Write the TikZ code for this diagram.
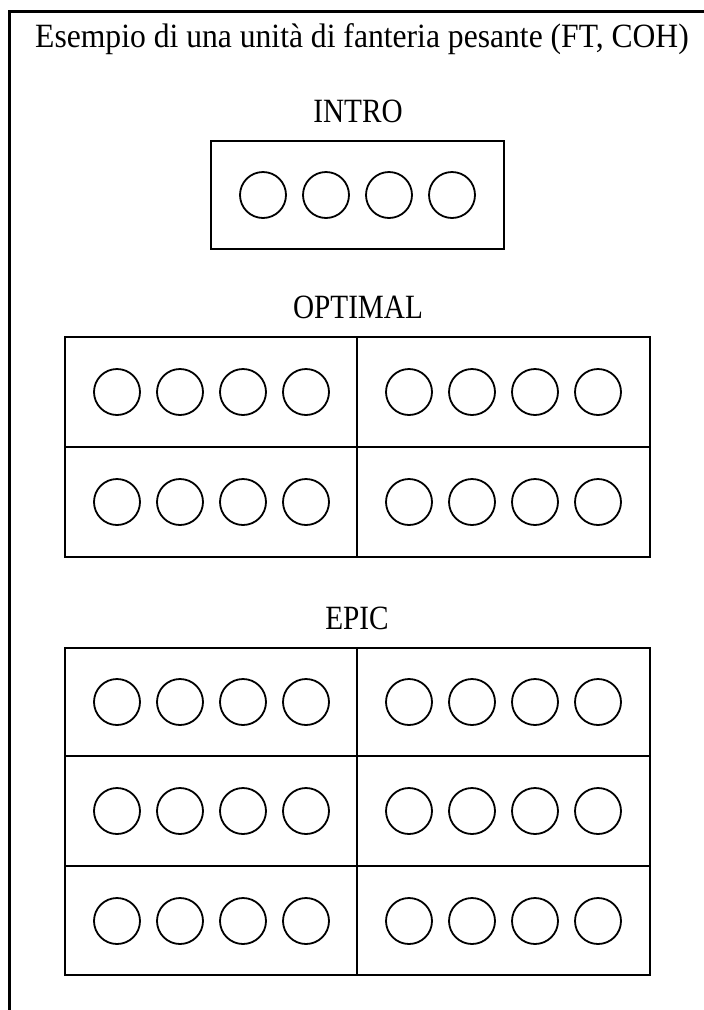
\documentclass[tikz,border=0pt]{standalone}
\usepackage{fontspec}
\setmainfont{Liberation Serif}
\newfontfamily\titlefont[FakeStretch=0.93]{Liberation Serif}
\newfontfamily\labfont[FakeStretch=0.86]{Liberation Serif}
\begin{document}
\begin{tikzpicture}[x=1pt,y=-1pt,
  frameline/.style={line width=2.6pt, line cap=rect},
  boxline/.style={line width=2.6pt},
  dot/.style={circle, draw, line width=1.8pt, minimum size=46pt, inner sep=0pt},
  titletext/.style={anchor=base, inner sep=0pt, font=\titlefont\fontsize{34}{38}\selectfont},
  labtext/.style={anchor=base, inner sep=0pt, font=\labfont\fontsize{34}{38}\selectfont}]
\useasboundingbox (0,0) rectangle (704,1010);
\fill[white] (0,0) rectangle (704,1010);
% frame
\coordinate (fb) at (9.5,1012);
\coordinate (ft) at (9.5,11.5);
\coordinate (fr) at (706,11.5);
\draw[frameline] (fb) -- (ft) -- (fr);
% texts
\node[titletext] (title) at (362,47) {Esempio di una unità di fanteria pesante (FT, COH)};
\node[labtext] (intro) at (358,122) {INTRO};
\node[labtext] (optimal) at (358,318) {OPTIMAL};
\node[labtext] (epic) at (357,629) {EPIC};
% INTRO box
\draw[boxline] (211,141) rectangle (504,249);
\foreach \i/\x in {1/263,2/326,3/389,4/452}
  \node[dot] (in\i) at (\x,195) {};
% OPTIMAL grid
\draw[boxline] (65,337) rectangle (650,557);
\draw[boxline] (65,447) -- (650,447);
\draw[boxline] (357,337) -- (357,557);
\foreach \r/\y in {1/392,2/502}{
  \foreach \i/\x in {1/117,2/180,3/243,4/306,5/409,6/472,7/535,8/598}
    \node[dot] (op\r\i) at (\x,\y) {};
}
% EPIC grid
\draw[boxline] (65,648) rectangle (650,975);
\draw[boxline] (65,756) -- (650,756);
\draw[boxline] (65,866) -- (650,866);
\draw[boxline] (357,648) -- (357,975);
\foreach \r/\y in {1/702,2/811,3/921}{
  \foreach \i/\x in {1/117,2/180,3/243,4/306,5/409,6/472,7/535,8/598}
    \node[dot] (ep\r\i) at (\x,\y) {};
}
\end{tikzpicture}
\end{document}
